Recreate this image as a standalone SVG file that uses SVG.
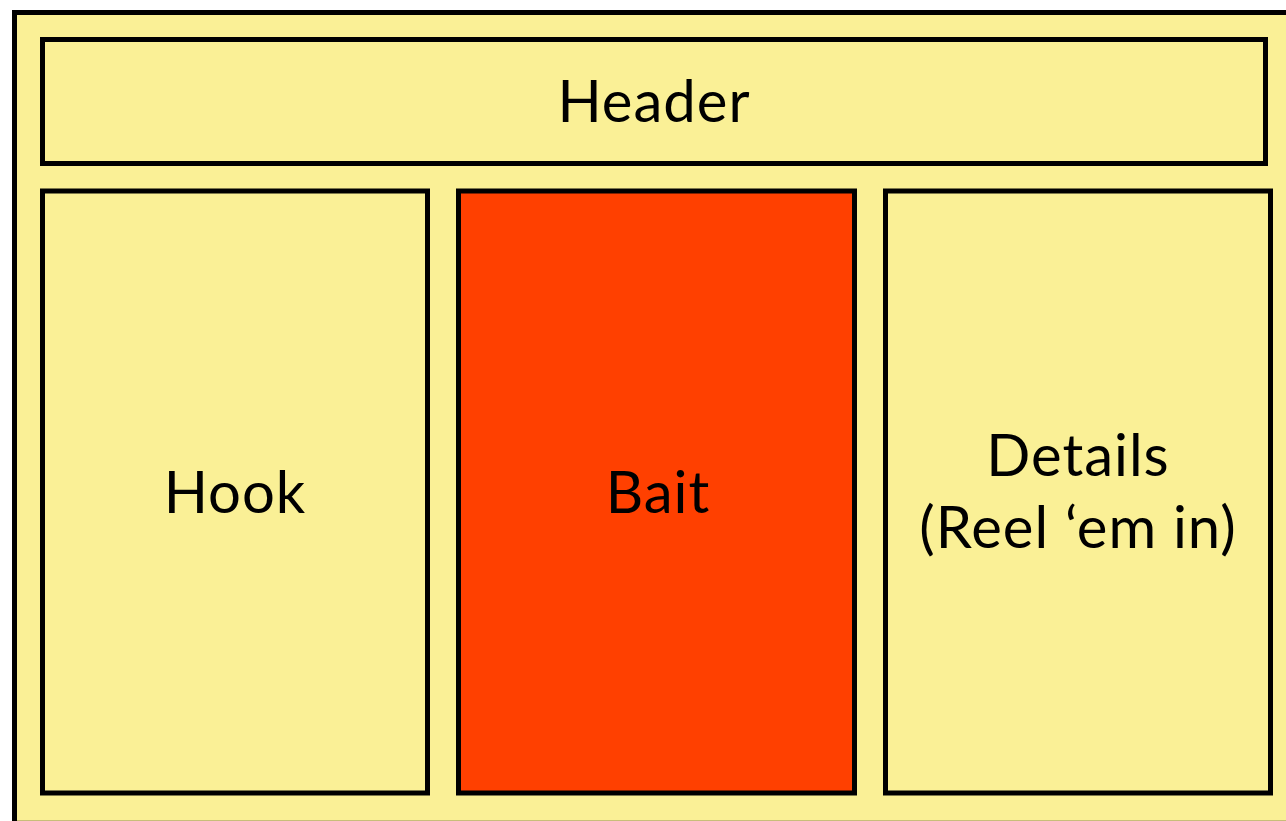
<svg xmlns="http://www.w3.org/2000/svg" width="1286" height="821" viewBox="0 0 1286 821">
<style>
.box{fill:#FAF096;stroke:#000;stroke-width:5}
.bait{fill:#FF4000;stroke:#000;stroke-width:5}
.t{font-family:Lato,"Open Sans",sans-serif;font-size:58px;letter-spacing:1px;fill:#000;text-anchor:middle}
</style>
<rect width="1286" height="821" fill="#fff"/>
<g id="page"><rect class="box" x="14.5" y="12.5" width="1290" height="830"/><line x1="17" y1="820.5" x2="1286" y2="820.5" stroke="#C8BE78" stroke-width="1"/></g>
<g id="header"><rect class="box" x="42.5" y="39.5" width="1223" height="124"/><text class="t" x="654" y="122">Header</text></g>
<g id="hook"><rect class="box" x="42.5" y="191" width="385" height="602"/><text class="t" x="235" y="513">Hook</text></g>
<g id="bait"><rect class="bait" x="458.5" y="191" width="396" height="602"/><text class="t" x="658" y="513">Bait</text></g>
<g id="details"><rect class="box" x="885.5" y="191" width="385" height="602"/><text class="t" x="1078" y="476">Details</text><text class="t" x="1078" y="548">(Reel ‘em in)</text></g>
</svg>
